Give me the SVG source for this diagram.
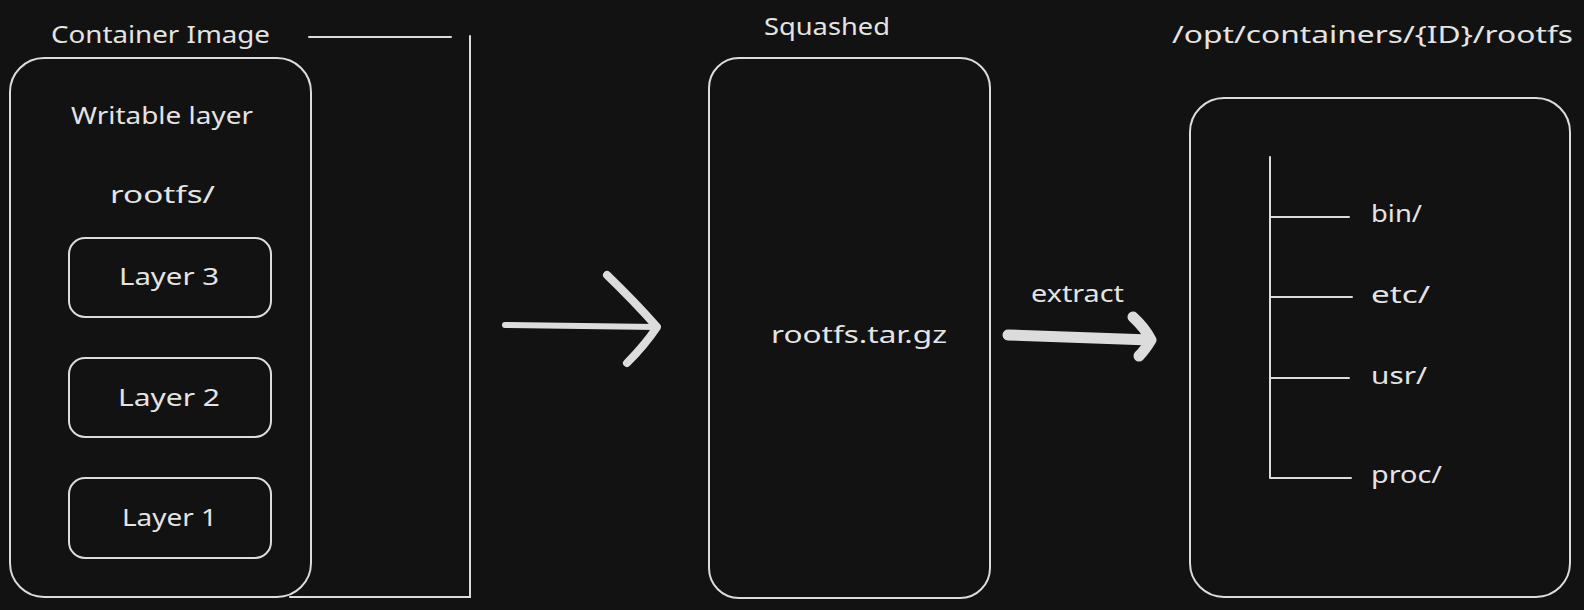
<svg xmlns="http://www.w3.org/2000/svg" width="1584" height="610" viewBox="0 0 1584 610">
<style>
.bg{fill:#121212}
.box{fill:none;stroke:#dcdcdc;stroke-width:2}
.ln{fill:none;stroke:#dcdcdc;stroke-width:2;stroke-linecap:round}
.t{font-family:"Noto Sans","Liberation Sans",sans-serif;fill:#e4e4e4;font-size:23px;text-anchor:middle}
.ts{font-family:"Noto Sans","Liberation Sans",sans-serif;fill:#e4e4e4;font-size:23px}
.arr{fill:none;stroke:#dcdcdc;stroke-linecap:round;stroke-linejoin:round}
</style>
<rect class="bg" x="0" y="0" width="1584" height="610"/>
<g id="container-image">
  <rect class="box" x="10" y="58" width="301" height="539" rx="34"/>
  <text class="t" x="160.5" y="43" textLength="219" lengthAdjust="spacingAndGlyphs">Container Image</text>
  <text class="t" x="162" y="124" textLength="182" lengthAdjust="spacingAndGlyphs">Writable layer</text>
  <text class="t" x="162.5" y="203" textLength="105" lengthAdjust="spacingAndGlyphs">rootfs/</text>
</g>
<g id="layer3">
  <rect class="box" x="69" y="238" width="202" height="79" rx="16"/>
  <text class="t" x="169" y="285" textLength="100" lengthAdjust="spacingAndGlyphs">Layer 3</text>
</g>
<g id="layer2">
  <rect class="box" x="69" y="358" width="202" height="79" rx="16"/>
  <text class="t" x="169" y="406" textLength="102" lengthAdjust="spacingAndGlyphs">Layer 2</text>
</g>
<g id="layer1">
  <rect class="box" x="69" y="478" width="202" height="80" rx="16"/>
  <text class="t" x="169.5" y="526" textLength="95" lengthAdjust="spacingAndGlyphs">Layer 1</text>
</g>
<g id="squashed">
  <rect class="box" x="709" y="58" width="281" height="540" rx="30"/>
  <text class="t" x="827" y="35" textLength="126" lengthAdjust="spacingAndGlyphs">Squashed</text>
  <text class="t" x="859" y="343" textLength="176" lengthAdjust="spacingAndGlyphs">rootfs.tar.gz</text>
</g>
<g id="rootfs-dir">
  <rect class="box" x="1190" y="98" width="380" height="499" rx="34"/>
  <text class="t" x="1372.5" y="43" textLength="401" lengthAdjust="spacingAndGlyphs">/opt/containers/{ID}/rootfs</text>
  <path class="ln" d="M1270 157 L1270 478 M1270 217 L1349 217 M1270 297 L1352 297 M1270 378 L1349 378 M1270 478 L1351 478"/>
  <text class="ts" x="1371" y="222" textLength="51" lengthAdjust="spacingAndGlyphs">bin/</text>
  <text class="ts" x="1371" y="303" textLength="59" lengthAdjust="spacingAndGlyphs">etc/</text>
  <text class="ts" x="1371" y="384" textLength="56" lengthAdjust="spacingAndGlyphs">usr/</text>
  <text class="ts" x="1371" y="483" textLength="71" lengthAdjust="spacingAndGlyphs">proc/</text>
</g>
<g id="connectors">
  <path class="ln" d="M309 37 L451 37 M470 36 L470 597 L290 597"/>
  <path class="arr" stroke-width="6" d="M505 325 L656 327"/>
  <path class="arr" stroke-width="8" d="M607 275 Q635 302 657 327 Q645 345 627 363"/>
  <path class="arr" stroke-width="11" d="M1008 335 L1150 340 M1133 317 Q1145 328 1151 340 Q1145 350 1139 356"/>
  <text class="t" x="1077.5" y="302" textLength="93" lengthAdjust="spacingAndGlyphs">extract</text>
</g>
</svg>
